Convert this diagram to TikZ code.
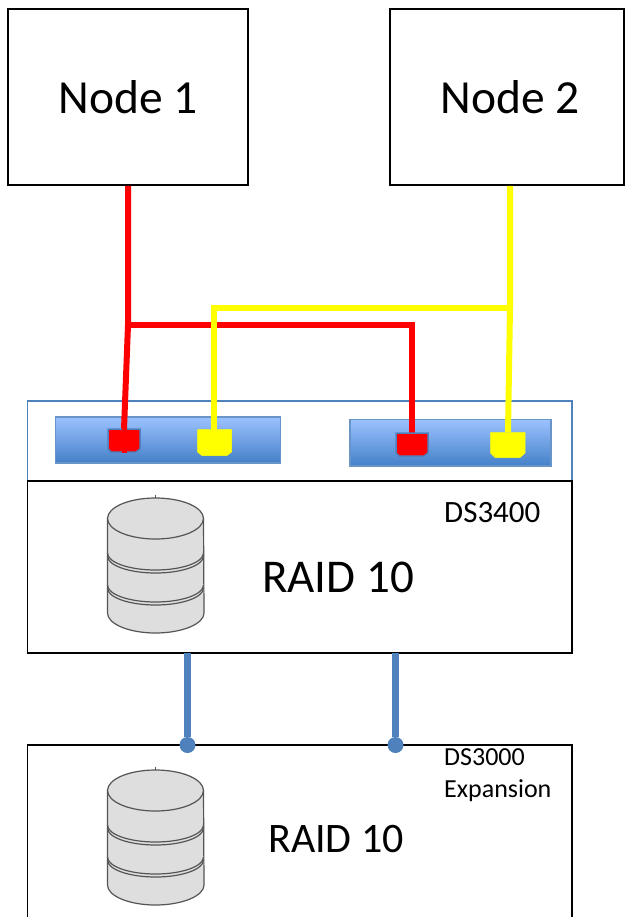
\documentclass[tikz,border=0pt]{standalone}
\usepackage{fontspec}
\setmainfont{Carlito}
\usetikzlibrary{calc}
\definecolor{ibmblue}{RGB}{79,129,189}
\definecolor{bartop}{RGB}{156,194,255}
\definecolor{barbot}{RGB}{68,128,200}
\definecolor{diskgray}{RGB}{222,222,222}
\definecolor{diskline}{RGB}{85,85,85}
\definecolor{wirered}{RGB}{255,0,0}
\definecolor{wireyellow}{RGB}{255,255,0}
\tikzset{
  x=1pt,y=-1pt,
  blackbox/.style={draw=black,line width=1.8pt,fill=white},
  hostbox/.style={blackbox,minimum width=240pt,minimum height=176pt,inner sep=0pt,font=\fontsize{47.5}{52}\selectfont},
  portbar/.style={draw=ibmblue!85,line width=1.2pt,top color=bartop,bottom color=barbot},
  redport/.style={draw=ibmblue,line width=1.5pt,fill=wirered},
  yellowport/.style={draw=wireyellow,line width=.5pt,fill=wireyellow},
  redwire/.style={draw=wirered,line width=6pt},
  yellowwire/.style={draw=wireyellow,line width=6pt},
  bluewire/.style={draw=ibmblue,line width=6.5pt},
  bluedot/.style={circle,fill=ibmblue,inner sep=0pt,minimum size=16pt},
  smalltext/.style={font=\fontsize{26}{32}\selectfont,align=left,anchor=north west,inner sep=0pt},
  diskedge/.style={draw=diskline,line width=1.2pt},
  disk/.pic={
    \draw[diskline,line width=.8pt] (48,-4) -- (48,0);
    \draw[diskedge,fill=diskgray] (0,19.5) .. controls (0,8.2) and (21.5,-1) .. (48,-1)
      .. controls (74.5,-1) and (96,8.2) .. (96,19.5) -- (96.5,114)
      .. controls (96.5,125) and (74.5,134) .. (48,134)
      .. controls (21.5,134) and (0,125) .. (0,114) -- cycle;
    \draw[diskedge] (0,19.5) .. controls (0,30.8) and (21.5,40) .. (48,40)
      .. controls (74.5,40) and (96,30.8) .. (96,19.5);
    \foreach \yy in {54,57,86,89}{
      \draw[diskedge] (0,\yy) .. controls (0,\yy+9.4) and (21.5,\yy+17) .. (48,\yy+17)
        .. controls (74.5,\yy+17) and (96,\yy+9.4) .. (96,\yy);
    }
  }
}
\begin{document}
\begin{tikzpicture}
\useasboundingbox (0,0) rectangle (625,917);
\fill[white] (0,0) rectangle (625,917);

% hosts
\node[hostbox] (n1) at (128,97) {Node 1};
\node[hostbox,minimum width=234pt] (n2) at (507,97) {\hspace*{6pt}Node 2};

% enclosures
\draw[draw=ibmblue,line width=1.5pt] (27.5,401) rectangle (572,482);
\draw[blackbox] (27.5,481) rectangle (572,653);
\node[inner sep=0pt,font=\fontsize{47}{52}\selectfont] (raidA) at (338,577) {RAID 10};
\node[inner sep=0pt,anchor=west,font=\fontsize{31}{36}\selectfont] (ds) at (444,513) {DS3400};
\draw[blackbox] (27.5,745) -- (572,745) -- (572,925) -- (27.5,925) -- cycle;
\node[inner sep=0pt,font=\fontsize{42}{47}\selectfont] (raidB) at (336,839) {RAID 10};
\node[smalltext] (dse) at (444,748) {DS3000\\Expansion};

% disks
\pic at (107.5,499) {disk};
\pic at (107.5,771) {disk};

% port bars
\path[portbar] (55.5,417) rectangle (280.5,463);
\path[portbar] (350,419.5) rectangle (551,466);

% ports
\coordinate (p1) at (124,429);
\coordinate (p2) at (214,430);
\coordinate (p3) at (412,433);
\coordinate (p4) at (508,432);
\coordinate (jr) at (128,325);
\coordinate (jy) at (510,307.5);
\coordinate (cr) at (412,325);
\coordinate (cy) at (214,307.5);

\draw[redwire] (n1.south) -- (jr) -- (p1);
\draw[redwire] (jr) -- (cr) -- (p3);
\draw[yellowwire] (n2.south -| jy) -- (jy) -- (p4);
\draw[yellowwire] (jy) -- (cy) -- (p2);

\path[redport] (108,429) -- (140,429) -- (140,449) -- (136,452) -- (111,452) -- (108,449) -- cycle;
\path[yellowport] (197.5,429.5) -- (231.5,429.5) -- (231.5,452) -- (227,455.5) -- (202,455.5) -- (197.5,452) -- cycle;
\path[redport] (396,433) -- (428,433) -- (428,453) -- (424,456) -- (399,456) -- (396,453) -- cycle;
\path[yellowport] (490.5,432.5) -- (525,432.5) -- (525,453) -- (520,457.5) -- (495,457.5) -- (490.5,453) -- cycle;
\fill[wirered] (121.5,428) rectangle (126.5,452.5);

% expansion links
\coordinate (top1) at (187.5,653);
\coordinate (top2) at (395.5,653);
\node[bluedot] (d1) at (187.5,745) {};
\node[bluedot] (d2) at (395.5,745) {};
\draw[bluewire] (top1) -- (d1);
\draw[bluewire] (top2) -- (d2);
\end{tikzpicture}
\end{document}
